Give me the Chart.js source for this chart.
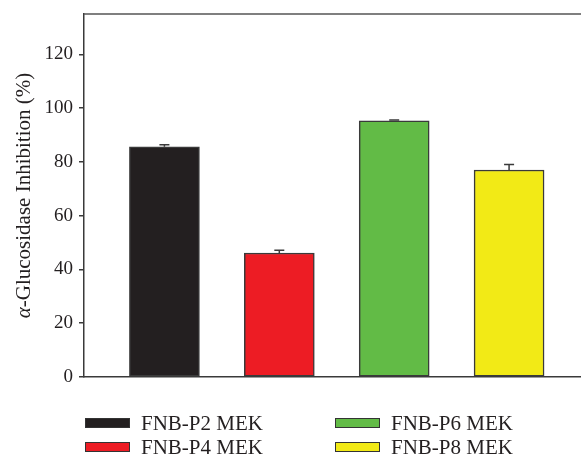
<!DOCTYPE html>
<html>
<head>
<meta charset="utf-8">
<script src="https://cdn.jsdelivr.net/npm/chart.js@4"></script>
<style>
  html, body { margin: 0; padding: 0; background: #fff; }
  #wrap { position: relative; width: 581px; height: 455px; overflow: hidden; }
  #chart { position: absolute; left: 0; top: 0; }
  .leg { position: absolute; display: flex; align-items: center; height: 24px;
         font-family: "Liberation Serif", "DejaVu Serif", serif; font-size: 21px; color: #231f20; white-space: nowrap; }
  .leg .sw { width: 43px; height: 8px; border: 1.5px solid #333; margin-right: 11px; }
</style>
</head>
<body>
<div id="wrap">
  <canvas id="chart" width="581" height="455"></canvas>
</div>
<script>
// Samples and their inhibition values (mean, %), with upper error (SD)
const categories = ["FNB-P2 MEK", "FNB-P4 MEK", "FNB-P6 MEK", "FNB-P8 MEK"];
const inhibition = [85.6, 46.1, 95.3, 77.0];
const errors = [0.8, 1.0, 0.3, 2.0];
const barColors = ["#231f20", "#ed1c24", "#62bb46", "#f2ea16"];
const yTicks = [0, 20, 40, 60, 80, 100, 120];

const serif = "'Liberation Serif', 'DejaVu Serif', serif";
const ink = "#231f20";
const lineCol = "#3a3a3a";

// Upward error bars with a small cap
const errorBars = {
  id: "errorBars",
  afterDatasetsDraw(chart) {
    const { ctx, scales: { x, y } } = chart;
    ctx.save();
    ctx.strokeStyle = lineCol;
    ctx.lineWidth = 1.5;
    inhibition.forEach((v, i) => {
      const px = x.getPixelForValue(i + 1);
      const y0 = y.getPixelForValue(v);
      const y1 = y.getPixelForValue(v + errors[i]);
      ctx.beginPath();
      ctx.moveTo(px, y0);
      ctx.lineTo(px, y1);
      ctx.moveTo(px - 5, y1);
      ctx.lineTo(px + 5, y1);
      ctx.stroke();
    });
    ctx.restore();
  }
};

// Top frame line and the rotated y-axis title (italic alpha)
const frameAndTitle = {
  id: "frameAndTitle",
  afterDraw(chart) {
    const { ctx, chartArea: a } = chart;
    ctx.save();
    ctx.strokeStyle = "#555";
    ctx.lineWidth = 1.5;
    ctx.beginPath();
    ctx.moveTo(a.left, a.top);
    ctx.lineTo(a.right, a.top);
    ctx.stroke();

    const part1 = "\u03B1";
    const part2 = "-Glucosidase Inhibition (%)";
    const fItal = "italic 21px " + serif;
    const fReg = "21px " + serif;
    ctx.font = fItal;
    const w1 = ctx.measureText(part1).width;
    ctx.font = fReg;
    const w2 = ctx.measureText(part2).width;
    const total = w1 + w2;
    ctx.translate(30, (a.top + a.bottom) / 2);
    ctx.rotate(-Math.PI / 2);
    ctx.fillStyle = ink;
    ctx.textBaseline = "alphabetic";
    ctx.textAlign = "left";
    ctx.font = fItal;
    ctx.fillText(part1, -total / 2, 0);
    ctx.font = fReg;
    ctx.fillText(part2, -total / 2 + w1, 0);
    ctx.restore();
  }
};

new Chart(document.getElementById("chart"), {
  type: "bar",
  data: {
    datasets: [{
      data: inhibition.map((v, i) => ({ x: i + 1, y: v })),
      backgroundColor: barColors,
      borderColor: lineCol,
      borderWidth: 1.5,
      borderSkipped: false,
      barThickness: 70
    }]
  },
  options: {
    responsive: false,
    animation: false,
    layout: { padding: { top: 14, bottom: 78, left: 0, right: 0 } },
    plugins: { legend: { display: false }, tooltip: { enabled: false } },
    scales: {
      x: {
        type: "linear",
        offset: false,
        min: 0.3,
        max: 4.626,
        ticks: { display: false },
        grid: { display: false },
        border: { display: true, color: lineCol, width: 1.5 },
        afterFit(s) { s.height = 0; s.paddingLeft = 0; s.paddingRight = 0; }
      },
      y: {
        min: 0,
        max: 135,
        afterBuildTicks(s) { s.ticks = yTicks.map(v => ({ value: v })); },
        ticks: { font: { family: serif, size: 19 }, color: ink, padding: 6 },
        grid: { drawOnChartArea: false, drawTicks: true, tickLength: 5, color: lineCol, lineWidth: 1.5 },
        border: { display: true, color: lineCol, width: 1.5 },
        afterFit(s) { s.width = 84; s.paddingTop = 0; s.paddingBottom = 0; }
      }
    }
  },
  plugins: [errorBars, frameAndTitle]
});

// Two-column legend: column-major order
const wrap = document.getElementById("wrap");
const legendPos = [
  { left: 85, top: 411 },
  { left: 85, top: 435 },
  { left: 335, top: 411 },
  { left: 335, top: 435 }
];
categories.forEach((name, i) => {
  const item = document.createElement("div");
  item.className = "leg";
  item.style.left = legendPos[i].left + "px";
  item.style.top = legendPos[i].top + "px";
  const sw = document.createElement("span");
  sw.className = "sw";
  sw.style.background = barColors[i];
  const txt = document.createElement("span");
  txt.textContent = name;
  item.appendChild(sw);
  item.appendChild(txt);
  wrap.appendChild(item);
});
</script>
</body>
</html>
